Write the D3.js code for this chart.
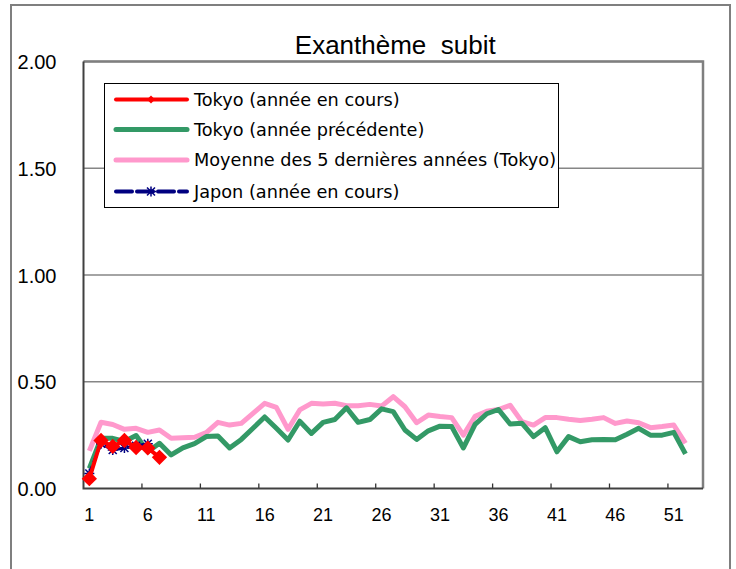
<!DOCTYPE html>
<meta charset="utf-8">
<script src="https://d3js.org/d3.v7.min.js"></script>
<style>
body { margin: 0; background: #fff; }
text { font-family: "Liberation Sans", Arial, sans-serif; fill: #000; }
.legend text { font-family: "DejaVu Sans", sans-serif; }
</style>
<div id="chart"></div>
<script>

// weeks on the x axis (53 categories)
var weeks = d3.range(1, 54);
var tickWeeks = [1, 6, 11, 16, 21, 26, 31, 36, 41, 46, 51];
var yTicks = [0, 0.5, 1, 1.5, 2];

// Tokyo, current year (weeks 1-7)
var tokyoCurrent = [0.046, 0.225, 0.197, 0.225, 0.192, 0.19, 0.146];

// Tokyo, previous year (weeks 1-52)
var tokyoPrevious = [0.094, 0.235, 0.235, 0.22, 0.248, 0.172, 0.212, 0.157, 0.19, 0.21,
  0.243, 0.246, 0.19, 0.23, 0.282, 0.335, 0.282, 0.227, 0.315, 0.258,
  0.31, 0.323, 0.378, 0.31, 0.323, 0.373, 0.36, 0.274, 0.23, 0.27,
  0.292, 0.29, 0.19, 0.3, 0.35, 0.37, 0.302, 0.306, 0.243, 0.285,
  0.172, 0.243, 0.219, 0.228, 0.23, 0.228, 0.254, 0.282, 0.25, 0.25,
  0.263, 0.162];

// mean of the last 5 years, Tokyo (weeks 1-52)
var tokyoAvg5 = [0.176, 0.31, 0.30, 0.277, 0.282, 0.263, 0.274, 0.235, 0.238, 0.24,
  0.262, 0.31, 0.297, 0.305, 0.352, 0.399, 0.38, 0.277, 0.368, 0.399,
  0.396, 0.399, 0.388, 0.388, 0.394, 0.386, 0.43, 0.383, 0.308, 0.344,
  0.337, 0.332, 0.25, 0.338, 0.362, 0.37, 0.39, 0.313, 0.297, 0.332,
  0.332, 0.324, 0.318, 0.324, 0.332, 0.305, 0.316, 0.308, 0.285, 0.29,
  0.297, 0.212];

// Japan, current year (weeks 1-6)
var japanCurrent = [0.07, 0.21, 0.18, 0.19, 0.2, 0.21];

var seriesNames = ["Tokyo (année en cours)", "Tokyo (année précédente)",
  "Moyenne des 5 dernières années (Tokyo)", "Japon (année en cours)"];

var margin = {top: 61.5, right: 33, bottom: 80.5, left: 83.5},
    width = 736 - margin.left - margin.right,
    height = 569 - margin.top - margin.bottom;

var svg = d3.select("#chart")
  .append("svg")
    .attr("width", 736)
    .attr("height", 569);

// outer chart frame
svg.append("rect")
  .attr("x", 11).attr("y", 5)
  .attr("width", 719).attr("height", 600)
  .attr("fill", "none")
  .attr("stroke", "#7f7f7f")
  .attr("stroke-width", 2);

// title
svg.append("text")
  .attr("x", margin.left + width / 2 + 2)
  .attr("y", 54)
  .attr("text-anchor", "middle")
  .style("font-size", "26px")
  .style("white-space", "pre")
  .text("Exanthème  subit");

var g = svg.append("g")
  .attr("transform", "translate(" + margin.left + "," + margin.top + ")");

var x = d3.scaleBand().domain(weeks).range([0, width]).padding(0);
var cx = function(i) { return x(weeks[i]) + x.bandwidth() / 2; };

var y = d3.scaleLinear().domain([0, 2]).range([height, 0]);

// gridlines
g.append("g")
  .selectAll("line")
  .data(yTicks.slice(1))
  .enter().append("line")
    .attr("x1", 0).attr("x2", width)
    .attr("y1", function(d) { return y(d); })
    .attr("y2", function(d) { return y(d); })
    .attr("stroke", "#868686")
    .attr("stroke-width", 1.5);

// plot frame: grey top/right
g.append("path")
  .attr("d", "M0,0H" + width + "V" + height)
  .attr("fill", "none")
  .attr("stroke", "#7f7f7f")
  .attr("stroke-width", 2.5);

// Y axis labels
var yAxis = g.append("g")
  .call(d3.axisLeft(y).tickValues(yTicks).tickFormat(d3.format(".2f")).tickSize(0).tickPadding(27));
yAxis.select(".domain").remove();
yAxis.selectAll("text")
  .style("font-size", "20px")
  .attr("dy", "0.36em");

// X axis labels at category centres
var xAxis = g.append("g")
  .attr("transform", "translate(0," + height + ")")
  .call(d3.axisBottom(x).tickValues(tickWeeks).tickSize(0).tickPadding(20));
xAxis.select(".domain").remove();
xAxis.selectAll("text")
  .style("font-size", "18px");

// inner tick marks at category boundaries
g.append("g")
  .selectAll("line")
  .data(tickWeeks.slice(1))
  .enter().append("line")
    .attr("x1", function(d) { return x(d); })
    .attr("x2", function(d) { return x(d); })
    .attr("y1", height).attr("y2", height - 5)
    .attr("stroke", "#333")
    .attr("stroke-width", 1.3);

// dark axis lines left/bottom
g.append("path")
  .attr("d", "M0,0V" + height + "H" + width)
  .attr("fill", "none")
  .attr("stroke", "#404040")
  .attr("stroke-width", 2);

var line = d3.line()
  .x(function(d, i) { return cx(i); })
  .y(function(d) { return y(d); });

// pink: 5-year mean
g.append("path")
  .datum(tokyoAvg5)
  .attr("d", line)
  .attr("fill", "none")
  .attr("stroke", "#ff99cc")
  .attr("stroke-width", 5)
  .attr("stroke-linejoin", "round");

// green: previous year
g.append("path")
  .datum(tokyoPrevious)
  .attr("d", line)
  .attr("fill", "none")
  .attr("stroke", "#339966")
  .attr("stroke-width", 5)
  .attr("stroke-linejoin", "round");

// navy dashed: Japan
g.append("path")
  .datum(japanCurrent)
  .attr("d", line)
  .attr("fill", "none")
  .attr("stroke", "#000080")
  .attr("stroke-width", 3)
  .attr("stroke-dasharray", "8,4");

var star = "M-5,0H5M0,-5V5M-4,-4L4,4M-4,4L4,-4";
g.append("g")
  .selectAll("path")
  .data(japanCurrent)
  .enter().append("path")
    .attr("transform", function(d, i) { return "translate(" + cx(i) + "," + y(d) + ")"; })
    .attr("d", star)
    .attr("stroke", "#000080")
    .attr("stroke-width", 1.5)
    .attr("fill", "none");

// red: current year
g.append("path")
  .datum(tokyoCurrent)
  .attr("d", line)
  .attr("fill", "none")
  .attr("stroke", "#ff0000")
  .attr("stroke-width", 4)
  .attr("stroke-linejoin", "round");

var diamond = d3.symbol().type(d3.symbolDiamond2).size(150);
g.append("g")
  .selectAll("path")
  .data(tokyoCurrent)
  .enter().append("path")
    .attr("transform", function(d, i) { return "translate(" + cx(i) + "," + y(d) + ")"; })
    .attr("d", diamond)
    .attr("fill", "#ff0000");

// legend
var legend = svg.append("g").attr("class", "legend");
legend.append("rect")
  .attr("x", 104.5).attr("y", 83.5)
  .attr("width", 454).attr("height", 124)
  .attr("fill", "#fff")
  .attr("stroke", "#000")
  .attr("stroke-width", 1);

var rowY = [99.5, 129.5, 160, 191.5];
var legendStyle = [
  {color: "#ff0000", w: 4, dash: null},
  {color: "#339966", w: 5, dash: null},
  {color: "#ff99cc", w: 5, dash: null},
  {color: "#000080", w: 4, dash: "16,5"}
];

var rows = legend.selectAll(".row")
  .data(seriesNames)
  .enter().append("g")
    .attr("class", "row")
    .attr("transform", function(d, i) { return "translate(0," + rowY[i] + ")"; });

rows.append("line")
  .attr("x1", 116).attr("x2", 187)
  .attr("stroke", function(d, i) { return legendStyle[i].color; })
  .attr("stroke-width", function(d, i) { return legendStyle[i].w; })
  .attr("stroke-dasharray", function(d, i) { return legendStyle[i].dash; })
  .attr("stroke-linecap", "round");

rows.filter(function(d, i) { return i === 0; })
  .append("path")
  .attr("transform", "translate(151,0)")
  .attr("d", d3.symbol().type(d3.symbolDiamond2).size(40))
  .attr("fill", "#ff0000");

rows.filter(function(d, i) { return i === 3; })
  .append("path")
  .attr("transform", "translate(151,0)")
  .attr("d", star)
  .attr("stroke", "#000080")
  .attr("stroke-width", 1.5);

rows.append("text")
  .attr("x", 194)
  .attr("dy", "0.36em")
  .style("font-size", "17.7px")
  .text(function(d) { return d; });

</script>
